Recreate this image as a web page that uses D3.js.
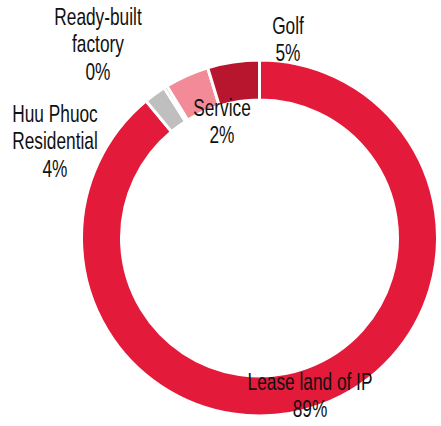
<!DOCTYPE html>
<html>
<head>
<meta charset="utf-8">
<script src="https://cdn.jsdelivr.net/npm/d3@7"></script>
<style>
  body { margin: 0; background: #fff; }
  text { font-family: "Liberation Sans", Arial, sans-serif; }
</style>
</head>
<body>
<div id="chart"></div>
<script>
const categories = ['Lease land of IP', 'Huu Phuoc Residential', 'Ready-built factory', 'Service', 'Golf'];
const shares = [89, 2, 0.3, 4, 4.7];
// printed percentages on the labels
const pctLabels = ['89%', '4%', '0%', '2%', '5%'];
const colors = ['#e31a3a', '#bfbfbf', '#7f7f7f', '#f28a98', '#b8152f'];

// label lines and where they sit (layout, not data)
const labelLines = [
  ['Lease land of IP'],
  ['Huu Phuoc', 'Residential'],
  ['Ready-built', 'factory'],
  ['Service'],
  ['Golf']
];
const labelAnchors = [[310, 390], [55, 122], [98, 25], [222, 116], [288, 34]];

const width = 441, height = 426;
const cx = 259.5, cy = 238;
const outerR = 178, innerR = 138;

const svg = d3.select('#chart').append('svg')
  .attr('width', width)
  .attr('height', height);

const data = categories.map((c, i) => ({ name: c, value: shares[i], color: colors[i], i }));

const pie = d3.pie()
  .sort(null)
  .value(d => d.value);

const arc = d3.arc()
  .innerRadius(innerR)
  .outerRadius(outerR);

const g = svg.append('g')
  .attr('transform', `translate(${cx},${cy})`);

g.selectAll('path')
  .data(pie(data))
  .join('path')
  .attr('d', arc)
  .attr('fill', d => d.data.color)
  .attr('stroke', '#fff')
  .attr('stroke-width', 3);

// the original uses a condensed face; squeeze a regular sans to match
const squeeze = 0.72;
const lineH = 27.5;
const labels = svg.append('g')
  .attr('text-anchor', 'middle')
  .attr('font-size', 24)
  .attr('fill', '#111');

data.forEach((d, i) => {
  const [x, y] = labelAnchors[i];
  const lines = labelLines[i].concat(pctLabels[i]);
  const t = labels.append('text')
    .attr('transform', `translate(${x},${y}) scale(${squeeze},1)`);
  lines.forEach((l, j) => {
    t.append('tspan')
      .attr('x', 0)
      .attr('y', j * lineH)
      .text(l);
  });
});
</script>
</body>
</html>
